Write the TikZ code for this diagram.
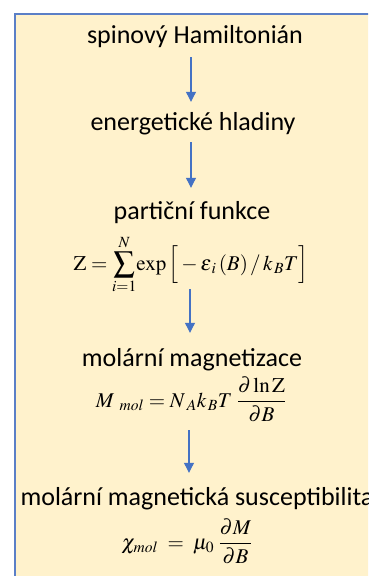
\documentclass[tikz,border=0pt]{standalone}
\usepackage{amsmath}
\usepackage{mathptmx}
\usepackage[no-math]{fontspec}
\setmainfont{Carlito}
\usetikzlibrary{arrows.meta}

\definecolor{boxfill}{HTML}{FFF2CC}
\definecolor{boxline}{HTML}{5B7FC7}
\definecolor{flowblue}{HTML}{4472C4}

\begin{document}
\begin{tikzpicture}[x=1pt, y=-1pt,
    stage/.style={anchor=base, inner sep=0pt, text height=19pt, text depth=6pt,
        font=\fontsize{26}{30}\selectfont},
    formula/.style={anchor=base, inner sep=0pt, text height=14pt, text depth=16pt,
        font=\fontsize{21}{25}\selectfont},
    flow/.style={draw=flowblue, line width=1.1pt, -{Triangle[width=10pt, length=10pt]}}
]
    \useasboundingbox (0,0) rectangle (368,576);
    \clip (0,0) rectangle (368,576);
    % background box
    \draw[boxline, line width=2pt, fill=boxfill] (15,14) rectangle (400,600);

    % stages and formulas
    \node[stage] (spin) at (195,43) {spinový Hamiltonián};
    \node[stage] (levels) at (193,130) {energetické hladiny};
    \node[stage] (part) at (192,219) {partiční funkce};
    \node[formula] (zf) at (191,270) {$\mathrm{Z} = \displaystyle\sum\limits_{i=1}^{N}\!\exp\Big[-\varepsilon_{\,i}\,(B)\,/\,k_{\,B}T\Big]$};
    \node[stage] (magn) at (192,366) {molární magnetizace};
    \node[formula] (mf) at (191,407) {$M_{\;\;mol} = N_{\;A}k_{\,B}T\;\dfrac{\partial \ln \mathrm{Z}}{\partial B}$};
    \node[stage] (susc) at (197,505) {molární magnetická susceptibilita};
    \node[formula] (cf) at (187,549) {$\chi_{mol} \;=\; \mu_0\;\dfrac{\partial M}{\partial B}$};

    % arrows
    \draw[flow, shorten <=8pt, shorten >=9pt] (spin.south -| 191,0) -- (levels.north -| 191,0);
    \draw[flow, shorten <=6pt, shorten >=12pt] (levels.south -| 191,0) -- (part.north -| 191,0);
    \draw[flow, shorten <=3pt, shorten >=14pt] (zf.south -| 190,0) -- (magn.north -| 190,0);
    \draw[flow, shorten <=7pt, shorten >=13pt] (mf.south -| 189,0) -- (susc.north -| 189,0);
\end{tikzpicture}
\end{document}
